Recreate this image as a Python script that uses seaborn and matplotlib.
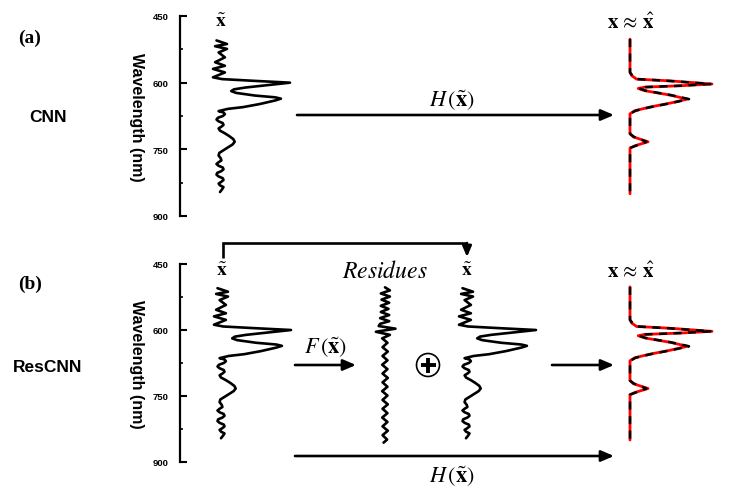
import matplotlib
matplotlib.use("Agg")
import matplotlib.pyplot as plt
from matplotlib.patches import Circle
import seaborn as sns

# ---------------- data ----------------
# noisy input spectrum x~ (wavelength in nm, relative intensity)
xt_wl = [505, 513, 518, 524, 532, 543, 554, 562, 569, 577, 588, 592, 596, 600,
         605, 611, 615, 619, 623, 629, 633, 636, 640, 648, 655, 659,
         664, 667, 671, 675, 679, 683, 687, 691, 695, 699, 703, 708, 714, 720, 727, 733,
         739, 745, 752, 758, 764, 770, 775, 779, 783, 787, 791, 795, 799, 803, 807, 811,
         815, 819, 823, 827, 831, 835, 840, 846]
xt_I = [-0.05, 0.10, -0.07, 0.10, -0.02, 0.07, -0.07, 0.07, -0.10, 0.07, -0.10, 0.03, 0.50, 1.00,
        0.71, 0.36, 0.20, 0.16, 0.23, 0.50, 0.79, 0.87, 0.79, 0.57, 0.33, 0.11,
        -0.02, 0.05, 0.07, 0.04, -0.03, -0.05, -0.02, 0.04, 0.05, 0.02, -0.02, 0.00, 0.07, 0.13,
        0.19, 0.21, 0.18, 0.12, 0.05, -0.01, -0.02, 0.01, 0.02, -0.02, -0.05, -0.02, 0.04, 0.05,
        0.02, -0.04, -0.05, -0.02, 0.04, 0.05, 0.02, -0.02, 0.00, 0.05, 0.03, 0.00]

# clean spectrum x (red) and reconstruction x^ (black dashed)
x_wl = [502, 577, 584, 592, 596, 603, 607, 610, 613, 618, 628, 637, 646, 655, 663, 670,
        715, 722, 733, 742, 747, 850]
x_I = [0, 0, 0.02, 0.08, 0.49, 1.00, 0.61, 0.18, 0.10, 0.18, 0.49, 0.70, 0.49, 0.24, 0.06, 0,
       0, 0.04, 0.22, 0.06, 0, 0]
xh_I = [0, 0, 0.03, 0.09, 0.47, 0.98, 0.60, 0.19, 0.11, 0.19, 0.50, 0.72, 0.50, 0.25, 0.07, 0,
        0, 0.05, 0.20, 0.07, 0, 0]

# residues F(x~)
res_wl = [503, 510, 517, 524, 531, 538, 545, 552, 559, 566, 573, 580, 586, 591, 597, 604,
          611, 619, 629, 639, 649, 659, 669, 679, 689, 699, 709, 719, 729, 739, 749,
          759, 769, 779, 789, 799, 809, 819, 829, 839, 849, 856]
res_I = [0.0, 0.07, -0.06, 0.07, -0.05, 0.06, -0.06, 0.05, -0.06, 0.06, -0.07, 0.06, -0.07,
         -0.09, 0.15, -0.13, 0.07, -0.04, 0.035, -0.035, 0.04, -0.035, 0.035, -0.04, 0.035,
         -0.035, 0.04, -0.035, 0.035, -0.04, 0.035, -0.035, 0.04, -0.035, 0.035, -0.04, 0.035,
         -0.035, 0.04, -0.035, 0.03, -0.02]

wl_ticks = [450, 600, 750, 900]
wl_minor = [525, 675, 825]

# ---------------- style ----------------
sns.set_style("white")
plt.rcParams["font.family"] = ["Liberation Sans", "DejaVu Sans"]
plt.rcParams["mathtext.fontset"] = "stix"
plt.rcParams["text.color"] = "black"
plt.rcParams["axes.labelcolor"] = "black"
plt.rcParams["ytick.color"] = "black"

W, H = 742, 489
fig = plt.figure(figsize=(W / 100, H / 100), dpi=100)


def px_axes(x0, x1, ytop, ybot):
    return fig.add_axes([x0 / W, 1 - ybot / H, (x1 - x0) / W, (ybot - ytop) / H])


# overlay for annotations (pixel coordinates)
ov = fig.add_axes([0, 0, 1, 1])
ov.set_xlim(0, W)
ov.set_ylim(H, 0)
ov.axis("off")
ov.patch.set_alpha(0)

PANELS = {"a": (17, 217), "b": (265, 463)}
XLO, XHI = -0.25, 1.2


def spec_axes(base, scale, ytop, ybot):
    ax = px_axes(base + XLO * scale, base + XHI * scale, ytop, ybot)
    ax.set_xlim(XLO, XHI)
    ax.set_ylim(900, 450)
    ax.axis("off")
    ax.patch.set_alpha(0)
    return ax


def wl_axis(ytop, ybot):
    ax = px_axes(180, 200, ytop, ybot)
    ax.set_ylim(900, 450)
    ax.patch.set_alpha(0)
    for s in ["top", "right", "bottom"]:
        ax.spines[s].set_visible(False)
    ax.spines["left"].set_linewidth(1.6)
    ax.spines["left"].set_color("black")
    ax.set_xticks([])
    ax.set_yticks(wl_ticks)
    ax.set_yticks(wl_minor, minor=True)
    ax.set_yticklabels([str(t) for t in wl_ticks], fontweight="bold", fontsize=6.8,
                       color="black")
    ax.tick_params(axis="y", which="major", direction="in", length=5, width=1.5,
                   pad=8, left=True, colors="black")
    ax.tick_params(axis="y", which="minor", direction="in", length=2.5, width=1.2,
                   left=True, colors="black")
    ax.set_ylabel("Wavelength (nm)", fontsize=11.5, fontweight="bold", rotation=270,
                  color="black")
    ax.yaxis.set_label_coords(-2.55, 0.5)
    return ax


def draw_input(ax):
    sns.lineplot(x=xt_I, y=xt_wl, sort=False, estimator=None, ax=ax, color="black", lw=1.9,
                 solid_joinstyle="round")


def draw_output(ax):
    sns.lineplot(x=x_I, y=x_wl, sort=False, estimator=None, ax=ax, color="red", lw=2.0,
                 solid_joinstyle="round")
    sns.lineplot(x=xh_I, y=x_wl, sort=False, estimator=None, ax=ax, color="black", lw=1.8,
                 linestyle=(0, (3.2, 2.6)))


def draw_res(ax):
    sns.lineplot(x=res_I, y=res_wl, sort=False, estimator=None, ax=ax, color="black", lw=1.9,
                 solid_joinstyle="round")


def arrow(x0, y0, x1, y1, ms=11):
    ov.annotate("", xy=(x1, y1), xytext=(x0, y0),
                arrowprops=dict(arrowstyle="-|>,head_length=0.7,head_width=0.3",
                                color="black", lw=1.9, shrinkA=0, shrinkB=0,
                                mutation_scale=ms))


SC_IN, SC_OUT = 70, 82

# ---------------- panel (a) ----------------
ya = PANELS["a"]
wl_axis(*ya)
draw_input(spec_axes(220, SC_IN, *ya))
draw_output(spec_axes(630, SC_OUT, *ya))

# ---------------- panel (b) ----------------
yb = PANELS["b"]
wl_axis(*yb)
draw_input(spec_axes(221, SC_IN, *yb))
draw_res(spec_axes(385, SC_IN, *yb))
draw_input(spec_axes(466, SC_IN, *yb))
draw_output(spec_axes(630, SC_OUT, *yb))

# ---------------- annotations ----------------
serif_bold = dict(family=["Liberation Serif", "DejaVu Serif"], fontweight="bold")
ov.text(30, 38, "(a)", fontsize=14, ha="center", va="center", **serif_bold)
ov.text(30, 284, "(b)", fontsize=14, ha="center", va="center", **serif_bold)
ov.text(48, 117, "CNN", fontsize=12.5, fontweight="bold", ha="center", va="center")
ov.text(48, 367, "ResCNN", fontsize=12.5, fontweight="bold", ha="center", va="center")

xt_lbl = r"$\tilde{\mathbf{x}}$"
ov.text(221, 22, xt_lbl, fontsize=14, ha="center", va="center")
ov.text(222, 271, xt_lbl, fontsize=14, ha="center", va="center")
ov.text(467, 271, xt_lbl, fontsize=14, ha="center", va="center")
out_lbl = r"$\mathbf{x} \,\approx\, \hat{\mathbf{x}}$"
ov.text(631, 23, out_lbl, fontsize=15, ha="center", va="center")
ov.text(631, 272, out_lbl, fontsize=15, ha="center", va="center")
ov.text(385, 272, r"$Residues$", fontsize=17, ha="center", va="center")

# (a) arrow
arrow(297, 116, 614, 116)
ov.text(452, 100, r"$H\,(\tilde{\mathbf{x}})$", fontsize=16, ha="center", va="center")

# (b) skip bracket
ov.plot([223, 223, 467], [259, 244, 244], color="black", lw=1.9, solid_capstyle="butt",
        solid_joinstyle="miter")
arrow(467, 244, 467, 258, ms=9)

# (b) F arrow, plus sign, right arrow
arrow(295, 366, 356, 366)
ov.text(326, 347, r"$F\,(\tilde{\mathbf{x}})$", fontsize=16, ha="center", va="center")
ov.add_patch(Circle((428, 366), 11.5, fill=False, lw=1.2, color="black"))
ov.plot([420.5, 435.5], [366, 366], color="black", lw=2.8, solid_capstyle="butt")
ov.plot([428, 428], [358.5, 373.5], color="black", lw=2.8, solid_capstyle="butt")
arrow(552, 366, 614, 366)

# (b) bottom H arrow
arrow(295, 457, 614, 457)
ov.text(452, 476, r"$H\,(\tilde{\mathbf{x}})$", fontsize=16, ha="center", va="center")

fig.savefig("out.png", dpi=100)
